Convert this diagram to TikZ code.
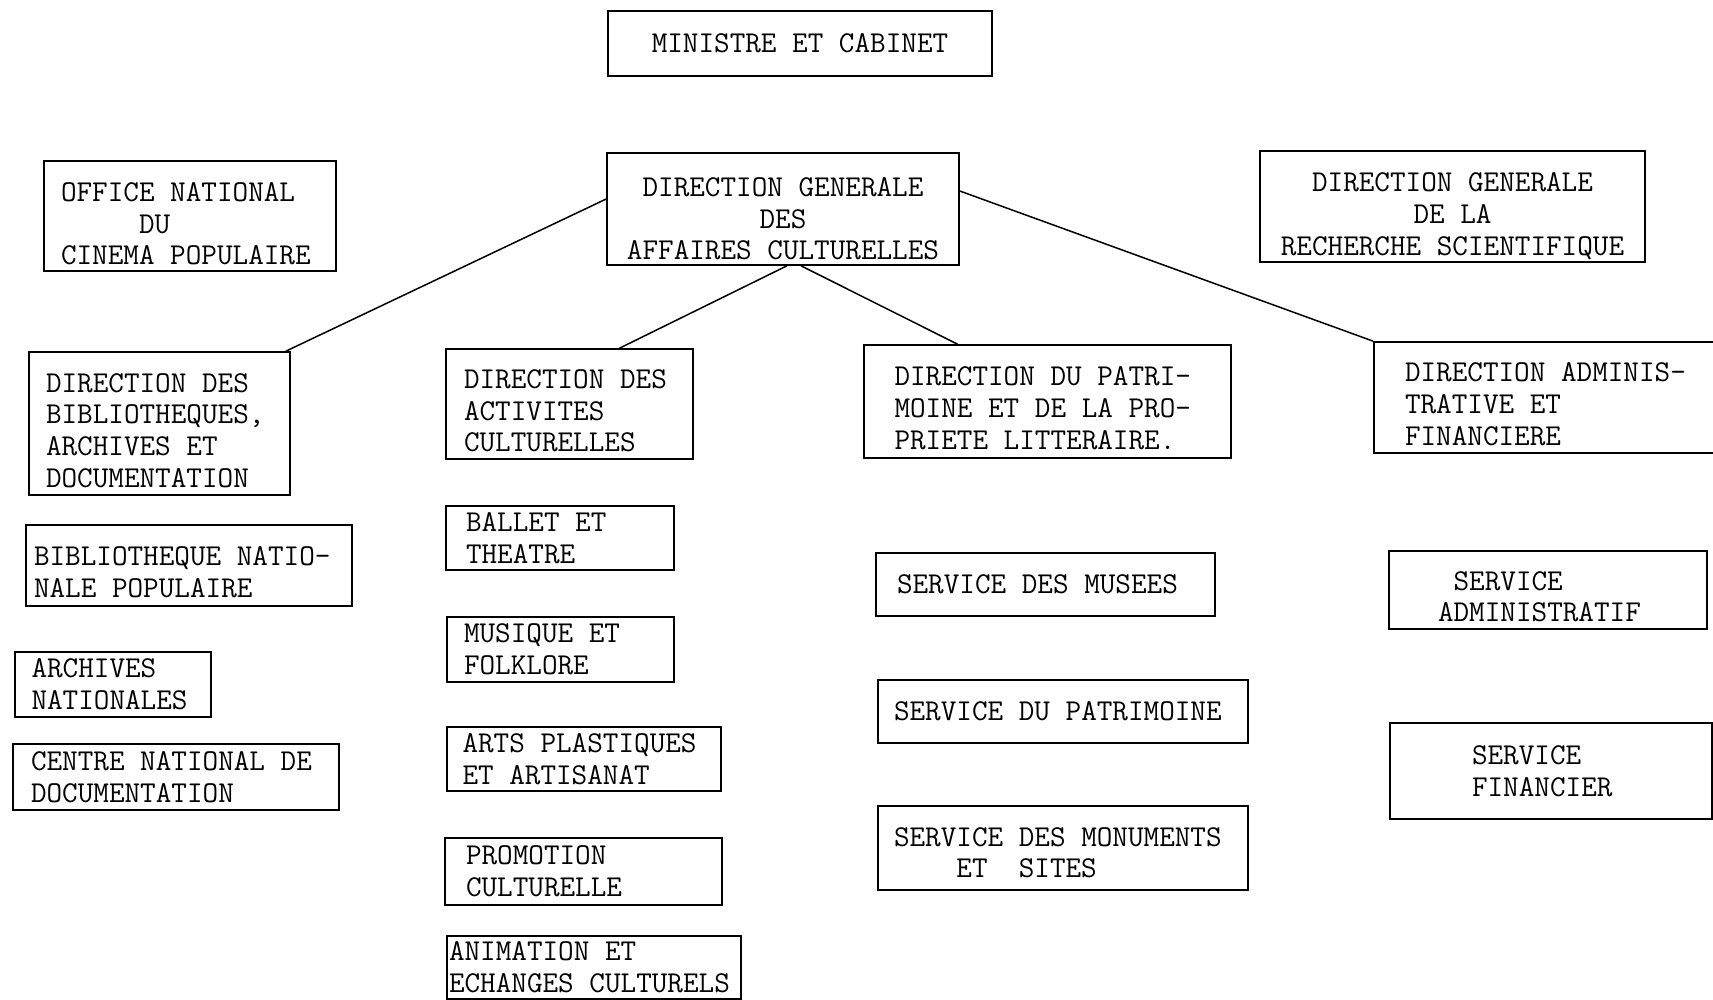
\documentclass[tikz,border=0pt]{standalone}

% espaces de machine a ecrire et descente du texte dans la boite
\newcommand\txtfix{\spaceskip=\fontdimen2\font\xspaceskip=\fontdimen2\font\relax}
\newcommand\txtdrop[1]{\rule{0pt}{\dimexpr\fontcharht\font`E+#1\relax}}

\begin{document}
\begin{tikzpicture}[x=1pt,y=-1pt]
    % organigramme: ministere de la culture
    % - une direction generale et ses quatre directions
    % - services sous chaque direction
    \tikzset{box/.style = {shape=rectangle,draw,line width=1.6pt,inner sep=0pt,
        font=\ttfamily\fontsize{30.3}{31.7}\selectfont,
        execute at begin node=\txtfix}}
    \tikzset{lbox/.style = {box,align=left}}
    \tikzset{cbox/.style = {box,align=center}}
    \tikzset{textdown/.style = {execute at begin node={\txtfix\txtdrop{#1pt}}}}
    \tikzset{link/.style = {line width=1.5pt}}
    \useasboundingbox (0,0) rectangle (1713,1000);

    % sommet
    \node[cbox, minimum width=384, minimum height=65, text width=384] (min) at (800,43.5)
        {MINISTRE ET CABINET};
    \node[cbox, minimum width=352, minimum height=112, text width=352, textdown=20] (dgac) at (783,209)
        {DIRECTION GENERALE\\DES\\AFFAIRES CULTURELLES};
    \node[lbox, minimum width=292, minimum height=110, text width=258, textdown=16] (onc) at (190,216)
        {OFFICE NATIONAL\\~~~~~DU\\CINEMA POPULAIRE};
    \node[cbox, minimum width=385, minimum height=111, text width=385, textdown=20] (dgrs) at (1452.5,206.5)
        {DIRECTION GENERALE\\DE LA\\RECHERCHE SCIENTIFIQUE};

    % directions
    \node[lbox, minimum width=261, minimum height=143, text width=227, textdown=14] (dbad) at (159.5,423.5)
        {DIRECTION DES\\BIBLIOTHEQUES,\\ARCHIVES ET\\DOCUMENTATION};
    \node[lbox, minimum width=247, minimum height=110, text width=211, textdown=14] (dac) at (569.5,404)
        {DIRECTION DES\\ACTIVITES\\CULTURELLES};
    \node[lbox, minimum width=367, minimum height=113, text width=306, textdown=14] (dppl) at (1047.5,401.5)
        {DIRECTION DU PATRI-\\MOINE ET DE LA PRO-\\PRIETE LITTERAIRE.};
    \node[lbox, minimum width=352, minimum height=111, text width=290, textdown=14] (daf) at (1550,397.5)
        {DIRECTION ADMINIS-\\TRATIVE ET\\FINANCIERE};

    % bibliotheques, archives et documentation
    \node[lbox, minimum width=326, minimum height=81, text width=310, textdown=14] (bnp) at (189,565.5)
        {BIBLIOTHEQUE NATIO-\\NALE POPULAIRE};
    \node[lbox, minimum width=196, minimum height=65, text width=163] (an) at (113,684.5)
        {ARCHIVES\\NATIONALES};
    \node[lbox, minimum width=326, minimum height=66, text width=290] (cnd) at (176,777)
        {CENTRE NATIONAL DE\\DOCUMENTATION};

    % activites culturelles
    \node[lbox, minimum width=228, minimum height=64, text width=188] (bt) at (560,538)
        {BALLET ET\\THEATRE};
    \node[lbox, minimum width=227, minimum height=65, text width=193] (mf) at (560.5,649.5)
        {MUSIQUE ET\\FOLKLORE};
    \node[lbox, minimum width=274, minimum height=64, text width=243] (apa) at (584,759)
        {ARTS PLASTIQUES\\ET ARTISANAT};
    \node[lbox, minimum width=277, minimum height=67, text width=235] (pc) at (583.5,871.5)
        {PROMOTION\\CULTURELLE};
    \node[lbox, minimum width=294, minimum height=63, text width=290] (aec) at (594,967.5)
        {ANIMATION ET\\ECHANGES CULTURELS};

    % patrimoine
    \node[lbox, minimum width=339, minimum height=63, text width=297] (sm) at (1045.5,584.5)
        {SERVICE DES MUSEES};
    \node[lbox, minimum width=370, minimum height=63, text width=338] (sp) at (1063,711.5)
        {SERVICE DU PATRIMOINE};
    \node[lbox, minimum width=370, minimum height=84, text width=338, textdown=10] (smon) at (1063,848)
        {SERVICE DES MONUMENTS\\~~~~ET~~SITES};

    % administration et finances
    \node[lbox, minimum width=318, minimum height=78, text width=220, textdown=14] (sadm) at (1548,590)
        {~SERVICE\\ADMINISTRATIF};
    \node[lbox, minimum width=322, minimum height=96, text width=158] (sfin) at (1551,771)
        {SERVICE\\FINANCIER};

    % liaisons
    \draw[link] ([yshift=10pt]dgac.west) -- ([xshift=-5pt]dbad.north east);
    \draw[link] ([xshift=4pt]dgac.south) -- ([xshift=50pt]dac.north);
    \draw[link] ([xshift=18pt]dgac.south) -- ([xshift=-90pt]dppl.north);
    \draw[link] ([yshift=18pt]dgac.east) -- (daf.north west);
\end{tikzpicture}
\end{document}
